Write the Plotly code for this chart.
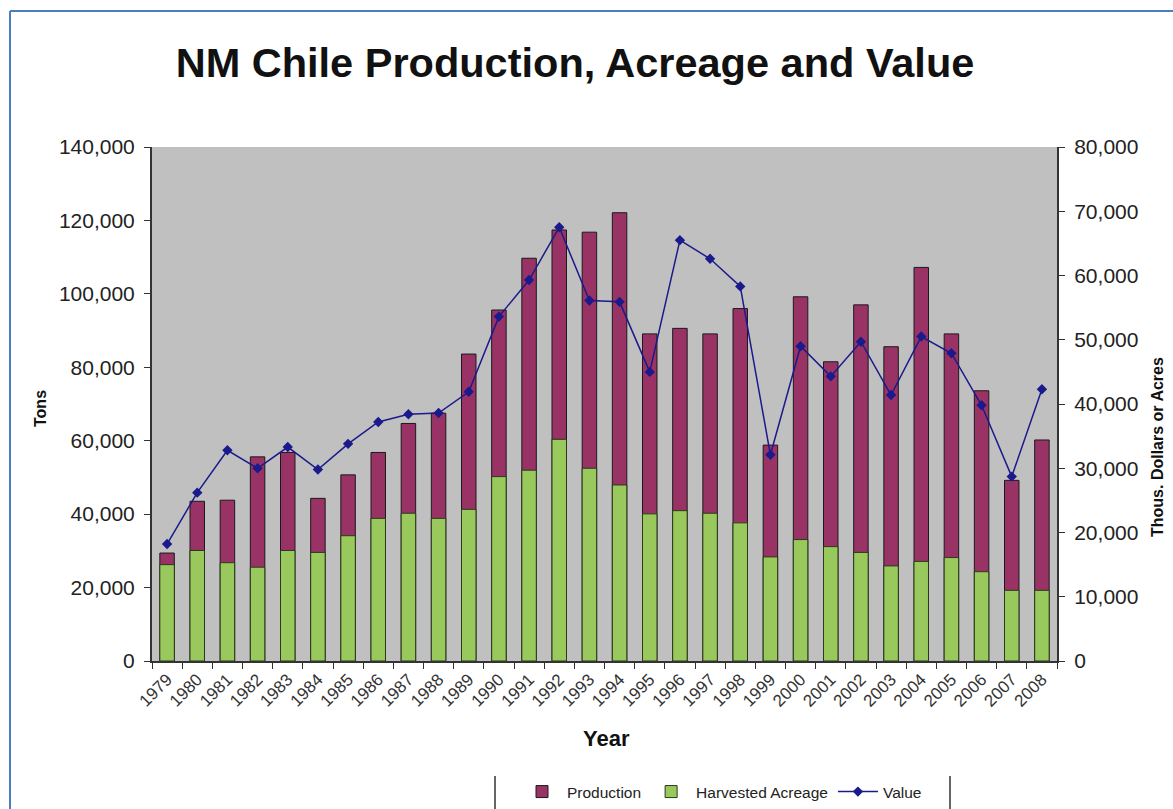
import plotly.graph_objects as go

years = [str(y) for y in range(1979, 2009)]
production = [29400, 43500, 43800, 55600, 56800, 44300, 50700, 56800, 64700, 67500,
              83600, 95600, 109700, 117400, 116800, 122100, 89100, 90600, 89100, 96000,
              58800, 99200, 81500, 97000, 85600, 107200, 89100, 73600, 49200, 60200]
acreage = [15000, 17200, 15300, 14600, 17200, 16900, 19500, 22200, 23000, 22200,
           23600, 28700, 29700, 34500, 30000, 27400, 22900, 23400, 23000, 21500,
           16200, 18900, 17800, 16900, 14800, 15500, 16100, 13900, 11000, 11000]
value = [18200, 26200, 32800, 30000, 33300, 29800, 33800, 37200, 38400, 38600,
         41900, 53600, 59300, 67500, 56100, 55900, 45000, 65500, 62600, 58300,
         32100, 49000, 44300, 49700, 41400, 50500, 47900, 39800, 28700, 42300]

W, H = 1173, 809
L, R, T, B = 152, 1057, 147, 661

def px(x):
    return (x - L) / (R - L)

def py(y):
    return (B - y) / (B - T)

FONT = "Liberation Sans, Arial, sans-serif"

fig = go.Figure()
fig.add_trace(go.Bar(x=years, y=production, name="Production", yaxis="y",
                     width=0.48, marker=dict(color="#993366", line=dict(color="#1a1a1a", width=1))))
fig.add_trace(go.Bar(x=years, y=acreage, name="Harvested Acreage", yaxis="y2",
                     width=0.48, marker=dict(color="#99C95C", line=dict(color="#2a3a1a", width=1))))
fig.add_trace(go.Scatter(x=years, y=value, name="Value", yaxis="y2", mode="lines+markers",
                         line=dict(color="#1a1a8c", width=1.5),
                         marker=dict(symbol="diamond", size=8, color="#1a1a8c")))

fig.update_layout(
    width=W, height=H,
    margin=dict(l=L, r=W - R, t=T, b=H - B, pad=0, autoexpand=False),
    paper_bgcolor="white", plot_bgcolor="#C0C0C0",
    barmode="overlay",
    font=dict(family=FONT, color="#111111"),
    title=dict(text="<b>NM Chile Production, Acreage and Value</b>", x=575 / W, xanchor="center",
               y=1 - 62 / H, yanchor="middle", font=dict(size=41.5, family=FONT, color="#111111")),
    xaxis=dict(type="category", range=[-0.5, 29.5], tickangle=-45, tickson="boundaries",
               ticks="outside", ticklen=6, tickcolor="#333333", showline=True, linecolor="#333333",
               linewidth=2, showgrid=False, tickfont=dict(size=17, color="#333333"), zeroline=False,
               automargin=False),
    yaxis=dict(range=[0, 140000], dtick=20000, tickformat=",", ticks="outside", ticklen=6,
               tickcolor="#333333", showline=True, linecolor="#333333", linewidth=2, showgrid=False,
               zeroline=False, tickfont=dict(size=21, color="#222222"), ticklabelstandoff=5,
               automargin=False),
    yaxis2=dict(range=[0, 80000], dtick=10000, tickformat=",", overlaying="y", side="right",
                ticks="outside", ticklen=6, tickcolor="#333333", showline=True, linecolor="#333333",
                linewidth=2, showgrid=False, zeroline=False, tickfont=dict(size=21, color="#222222"),
                ticklabelstandoff=5, automargin=False),
    legend=dict(orientation="h", x=px(722), xanchor="center", y=py(792), yanchor="middle",
                font=dict(size=15.5, color="#222222"), bgcolor="rgba(0,0,0,0)", traceorder="normal",
                itemwidth=40),
    showlegend=True,
)

fig.add_annotation(text="<b>Year</b>", x=px(606), y=py(738), xref="paper", yref="paper",
                   xanchor="center", yanchor="middle",
                   showarrow=False, font=dict(size=22, family=FONT, color="#111111"))
fig.add_annotation(text="<b>Tons</b>", x=px(40), y=py(409), xref="paper", yref="paper",
                   xanchor="center", yanchor="middle",
                   showarrow=False, textangle=-90, font=dict(size=16, family=FONT, color="#111111"))
fig.add_annotation(text="<b>Thous. Dollars or Acres</b>", x=px(1158), y=py(447), xref="paper",
                   yref="paper", xanchor="center", yanchor="middle", showarrow=False, textangle=-90,
                   font=dict(size=16, family=FONT, color="#111111"))

# legend box side lines and outer border
for xv in (495, 950):
    fig.add_shape(type="line", xref="paper", yref="paper", x0=px(xv), x1=px(xv),
                  y0=py(776), y1=py(812), line=dict(color="#333333", width=1.5))
fig.add_shape(type="line", xref="paper", yref="paper", x0=px(10), x1=px(10),
              y0=py(11), y1=py(815), line=dict(color="#4A7EC0", width=2))
fig.add_shape(type="line", xref="paper", yref="paper", x0=px(10), x1=px(1180),
              y0=py(11), y1=py(11), line=dict(color="#4A7EC0", width=2))

fig.write_html("out.html", config={"displayModeBar": False},
               post_script="document.body.style.margin='0';document.body.style.overflow='hidden';")
